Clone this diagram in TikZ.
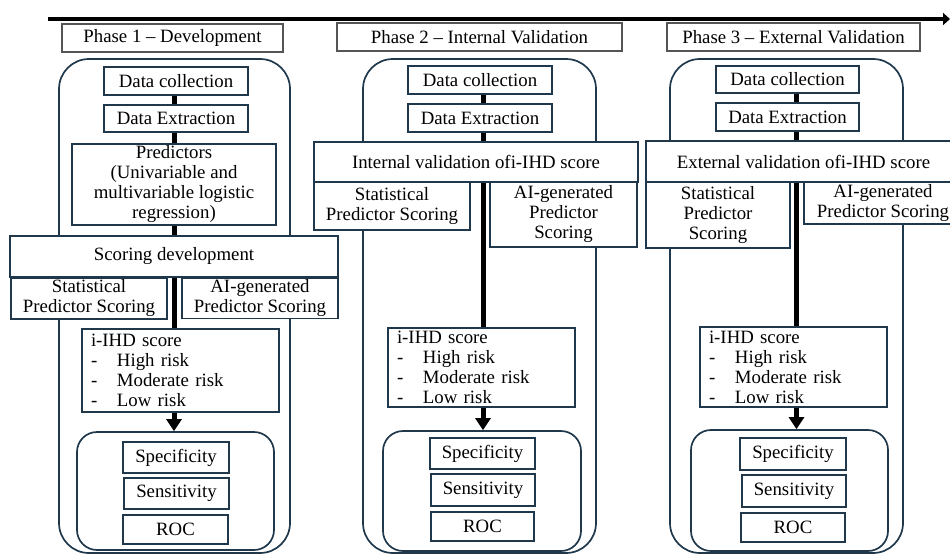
\documentclass[tikz,border=0pt]{standalone}
\usepackage{fontspec}
\setmainfont{Liberation Serif}
\usetikzlibrary{arrows.meta,backgrounds}
\definecolor{bord}{RGB}{31,56,76}
\definecolor{hdr}{RGB}{85,85,85}
\newcommand\dashitem[1]{\makebox[26pt][l]{-}#1}
\begin{document}
\begin{tikzpicture}[x=1pt,y=-1pt,
  every node/.style={font=\fontsize{18.8}{20}\selectfont},
  wh/.style 2 args={minimum width=#1pt, minimum height=#2pt},
  bx/.style={draw=bord, line width=1.7pt, fill=white, align=center, inner sep=0pt},
  lst/.style={draw=bord, line width=1.7pt, fill=white, align=left, inner ysep=0pt, inner xsep=9pt},
  hd/.style={draw=hdr, line width=1.1pt, fill=white, inner sep=0pt},
  cont/.style={draw=bord, line width=1.7pt, rounded corners=30pt, inner sep=0pt},
  contb/.style={draw=bord, line width=1.7pt, rounded corners=20pt, inner sep=0pt},
  spine/.style={line width=5pt, black},
  arr/.style={line width=5pt, black, -{Triangle[width=15pt,length=12pt]}},
  ]
\useasboundingbox (0,0) rectangle (950,554);

% top timeline arrow
\coordinate (ts) at (48,19);
\coordinate (te) at (950,19);
\draw[line width=4pt, -{Triangle[width=12pt,length=7pt]}] (ts) -- (te);

% headers
\node[hd, wh={221}{28}] (h1) at (172.5,38) {Phase 1 – Development};
\node[hd, wh={285}{28}] (h2) at (479.5,37) {Phase 2 – Internal Validation};
\node[hd, wh={253}{28}] (h3) at (793.5,37) {Phase 3 – External Validation};

% outer containers
\node[cont, wh={231}{494}] (o1) at (174.5,306) {};
\node[cont, wh={233}{494}] (o2) at (479.5,306) {};
\node[cont, wh={233}{494}] (o3) at (786.5,306) {};

% inner bottom containers
\node[contb, wh={197}{118}] (cb1) at (175.5,491) {};
\node[contb, wh={198}{120}] (cb2) at (482,491) {};
\node[contb, wh={197}{121}] (cb3) at (789.5,490.5) {};

% ---------- Phase 1 ----------
\node[bx, wh={144}{28}] (dc1) at (176,81) {Data collection};
\node[bx, wh={144}{27}] (de1) at (176,118.5) {Data Extraction};
\node[bx, wh={204}{81}] (pr1) at (174,184.5) {Predictors\\(Univariable and\\multivariable logistic\\regression)};
\node[bx, wh={328}{41}] (sd1) at (174,256.5) {Scoring development};
\node[bx, wh={156}{41}] (st1) at (89,298.5) {Statistical\\Predictor Scoring};
\node[bx, wh={156}{40}] (ai1) at (260,298.5) {AI-generated\\Predictor Scoring};
\node[lst, wh={197}{83}, text width=179pt] (ih1) at (180.5,370.5) {i-IHD score\\\dashitem{High risk}\\\dashitem{Moderate risk}\\\dashitem{Low risk}};
\node[bx, wh={106}{31}] (sp1) at (176,457.5) {Specificity};
\node[bx, wh={105}{31}] (se1) at (176.5,493.5) {Sensitivity};
\node[bx, wh={105}{29}] (ro1) at (175.5,529.5) {ROC};

% ---------- Phase 2 ----------
\node[bx, wh={144}{28}] (dc2) at (480,80) {Data collection};
\node[bx, wh={144}{28}] (de2) at (480,118) {Data Extraction};
\node[bx, wh={324}{40}] (iv2) at (476,162) {Internal validation ofi-IHD score};
\node[bx, wh={156}{48}] (st2) at (392,206) {Statistical\\Predictor Scoring};
\node[bx, wh={147}{65}] (ai2) at (563.5,214.5) {AI-generated\\Predictor\\Scoring};
\node[lst, wh={187}{79}, text width=169pt] (ih2) at (481.5,367.5) {i-IHD score\\\dashitem{High risk}\\\dashitem{Moderate risk}\\\dashitem{Low risk}};
\node[bx, wh={105}{31}] (sp2) at (482.5,453.5) {Specificity};
\node[bx, wh={104}{32}] (se2) at (483,490) {Sensitivity};
\node[bx, wh={103}{29}] (ro2) at (482.5,526.5) {ROC};

% ---------- Phase 3 ----------
\node[bx, wh={143}{27}] (dc3) at (787.5,79.5) {Data collection};
\node[bx, wh={143}{28}] (de3) at (787.5,117) {Data Extraction};
\node[bx, wh={315}{41}] (ev3) at (803.5,161.5) {External validation ofi-IHD score};
\node[bx, wh={144}{66}] (st3) at (718,215) {Statistical\\Predictor\\Scoring};
\node[bx, wh={158}{42}] (ai3) at (883,203) {AI-generated\\Predictor Scoring};
\node[lst, wh={187}{80}, text width=169pt] (ih3) at (793.5,367) {i-IHD score\\\dashitem{High risk}\\\dashitem{Moderate risk}\\\dashitem{Low risk}};
\node[bx, wh={106}{32}] (sp3) at (793,454) {Specificity};
\node[bx, wh={104}{32}] (se3) at (794,491) {Sensitivity};
\node[bx, wh={104}{29}] (ro3) at (793,527.5) {ROC};

% spines (behind boxes)
\coordinate (x1) at (174,0);
\coordinate (x2) at (483,0);
\coordinate (x3) at (796.5,0);
\begin{scope}[on background layer]
  \draw[spine] (dc1.south -| x1) -- (ih1.north -| x1);
  \draw[spine] (dc2.south -| x2) -- (ih2.north -| x2);
  \draw[spine] (dc3.south -| x3) -- (ih3.north -| x3);
\end{scope}

% arrows to evaluation
\draw[arr] (ih1.south -| x1) -- (cb1.north -| x1);
\draw[arr] (ih2.south -| x2) -- (cb2.north -| x2);
\draw[arr] (ih3.south -| x3) -- (cb3.north -| x3);
\end{tikzpicture}
\end{document}
